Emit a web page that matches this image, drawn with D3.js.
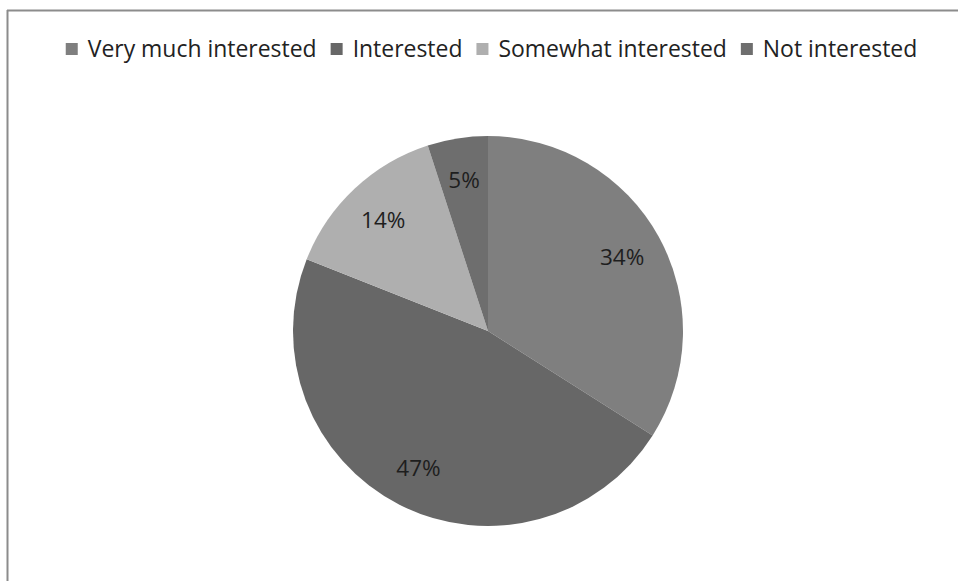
<!DOCTYPE html>
<html><head><meta charset="utf-8">
<script src="https://cdn.jsdelivr.net/npm/d3@7"></script>
<style>body{margin:0;background:#fff}svg{display:block}</style>
</head><body>
<svg id="c" width="958" height="581"></svg>
<script>
const categories = ["Very much interested", "Interested", "Somewhat interested", "Not interested"];
const values = [34, 47, 14, 5];
const labels = ["34%", "47%", "14%", "5%"];
const colors = ["#7f7f7f", "#676767", "#afafaf", "#6e6e6e"];

const svg = d3.select("#c");
const font = "'Open Sans', Lato, sans-serif";

// frame
svg.append("line").attr("x1", 7).attr("x2", 958).attr("y1", 10.5).attr("y2", 10.5).attr("stroke", "#8c8c8c").attr("stroke-width", 2);
svg.append("line").attr("x1", 7.5).attr("x2", 7.5).attr("y1", 10).attr("y2", 581).attr("stroke", "#8c8c8c").attr("stroke-width", 2);

const cx = 488, cy = 331, r = 195;
const pie = d3.pie().sort(null).value(d => d)(values);
const arc = d3.arc().innerRadius(0).outerRadius(r);
const labArc = d3.arc().innerRadius(r * 0.785).outerRadius(r * 0.785);
const g = svg.append("g").attr("transform", `translate(${cx},${cy})`);
g.selectAll("path").data(pie).join("path").attr("d", arc).attr("fill", (d, i) => colors[i]);
g.selectAll("text").data(pie).join("text")
  .attr("transform", d => `translate(${labArc.centroid(d)})`)
  .attr("text-anchor", "middle").attr("dy", "0.36em")
  .attr("font-family", font).attr("font-size", 22.5).attr("fill", "#1e1e1e")
  .text((d, i) => labels[i]);

// legend
const lg = svg.append("g");
const texts = [];
categories.forEach((c, i) => {
  const it = lg.append("g");
  it.append("rect").attr("x", 0).attr("y", -6).attr("width", 12).attr("height", 12).attr("fill", colors[i]);
  texts.push(it.append("text").attr("x", 22).attr("dy", "0.35em").attr("font-family", font).attr("font-size", 20).attr("fill", "#222").text(c));
});
// fit legend text to the reference width
let tw = d3.sum(texts, t => t.node().getComputedTextLength());
const fs = 20 * 722 / tw;
texts.forEach(t => t.attr("font-size", fs));
let x = 0;
lg.selectAll(":scope > g").each(function(d, i) {
  d3.select(this).attr("transform", `translate(${x},0)`);
  x += 22 + texts[i].node().getComputedTextLength() + 14;
});
const total = x - 14;
lg.attr("transform", `translate(${491.5 - total / 2},49)`);
</script>
</body></html>
